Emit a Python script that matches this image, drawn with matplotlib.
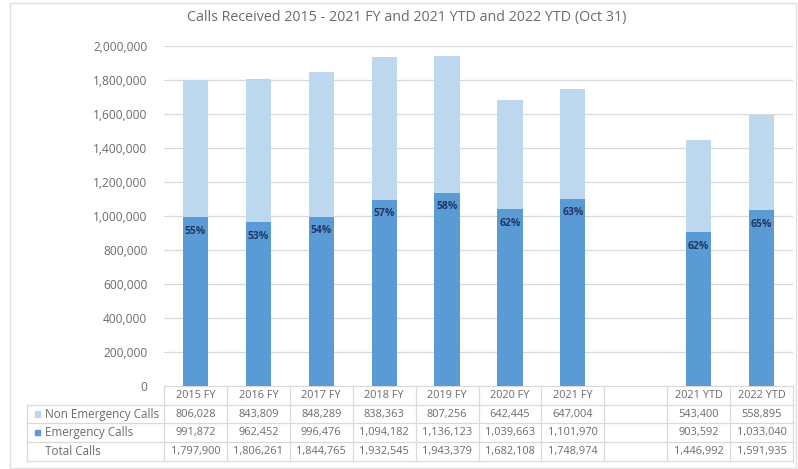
import numpy as np
import matplotlib
matplotlib.use("Agg")
import matplotlib.pyplot as plt
from matplotlib.transforms import blended_transform_factory
from matplotlib.patches import Rectangle

# ---- data ----
categories = ["2015 FY", "2016 FY", "2017 FY", "2018 FY", "2019 FY", "2020 FY",
              "2021 FY", "", "2021 YTD", "2022 YTD"]
non_emergency = [806028, 843809, 848289, 838363, 807256, 642445, 647004,
                 np.nan, 543400, 558895]
emergency = [991872, 962452, 996476, 1094182, 1136123, 1039663, 1101970,
             np.nan, 903592, 1033040]
total = [1797900, 1806261, 1844765, 1932545, 1943379, 1682108, 1748974,
         np.nan, 1446992, 1591935]
row_labels = ["Non Emergency Calls", "Emergency Calls", "Total Calls"]
y_ticks = list(range(0, 2000001, 200000))
title = "Calls Received 2015 - 2021 FY and 2021 YTD and 2022 YTD (Oct 31)"

# ---- style ----
light = "#BDD7EE"
dark = "#5B9BD5"
txt = "#6b6b6b"
grid = "#D9D9D9"
plt.rcParams['font.family'] = ['Open Sans', 'DejaVu Sans']

W, H = 798, 469
fig = plt.figure(figsize=(W / 100, H / 100), dpi=100)
L, R, T, B = 164, 793, 46, 386
ax = fig.add_axes([L / W, 1 - B / H, (R - L) / W, (B - T) / H])

x = np.arange(len(categories))
em = np.array(emergency, dtype=float)
ne = np.array(non_emergency, dtype=float)
ax.bar(x, em, width=0.4, color=dark, zorder=3)
ax.bar(x, ne, width=0.4, bottom=em, color=light, zorder=3)

for xi, e, t in zip(x, emergency, total):
    if np.isnan(e):
        continue
    ax.annotate(f"{round(100 * e / t)}%", (xi, e), xytext=(0, -10),
                textcoords="offset points", ha="center", va="center",
                fontsize=7.5, fontweight="bold", color="#1F3864", zorder=4)

ax.set_xlim(-0.5, len(categories) - 0.5)
ax.set_ylim(0, 2000000)
ax.set_yticks(y_ticks)
ax.set_yticklabels([f"{v:,}" for v in y_ticks], fontsize=8.6, color=txt)
ax.set_xticks([])
ax.tick_params(axis="y", length=0, pad=12)
ax.yaxis.grid(True, color=grid, linewidth=0.9, zorder=0)
for s in ["top", "right", "left"]:
    ax.spines[s].set_visible(False)
ax.spines["bottom"].set_color(grid)

fig.text(407 / W, 1 - 18 / H, title, ha="center", va="center",
         fontsize=10.3, color=txt)

# ---- data table ----
ph = B - T
rh = 18.7 / ph                         # row height in axes fraction
lab_left = (27 - L) / (R - L)          # label column left edge (axes fraction)
trans = blended_transform_factory(ax.transData, ax.transAxes)
line_kw = dict(color=grid, linewidth=0.9, transform=ax.transAxes, clip_on=False)

n_rows = 1 + len(row_labels)
bottom = -n_rows * rh
for r in range(1, n_rows + 1):
    ax.plot([lab_left, 1], [-r * rh, -r * rh], **line_kw)
for c in range(len(categories) + 1):
    xa = c / len(categories)
    ax.plot([xa, xa], [0, bottom], **line_kw)
ax.plot([lab_left, lab_left], [-rh, bottom], **line_kw)

for xi, cat in zip(x, categories):
    ax.text(xi, -0.5 * rh, cat, transform=trans, ha="center", va="center",
            fontsize=7.8, color=txt)

rows = [non_emergency, emergency, total]
markers = [light, dark, None]
for r, (lab, vals, mc) in enumerate(zip(row_labels, rows, markers), start=1):
    yc = -(r + 0.5) * rh
    ax.text(lab_left + 0.029, yc, lab, transform=ax.transAxes, ha="left",
            va="center", fontsize=8.4, color=txt)
    if mc is not None:
        ax.add_patch(Rectangle((lab_left + 0.0125, yc - 0.008), 0.0075, 0.016,
                               transform=ax.transAxes, color=mc, clip_on=False))
    for xi, v in zip(x, vals):
        if np.isnan(v):
            continue
        ax.text(xi, yc, f"{int(v):,}", transform=trans, ha="center",
                va="center", fontsize=7.9, color=txt)

fig.add_artist(Rectangle((10 / W, 1 / H), 786 / W, 465 / H, transform=fig.transFigure,
                         fill=False, edgecolor="#E0E0E0", linewidth=1))

fig.savefig("out.png", dpi=100)
